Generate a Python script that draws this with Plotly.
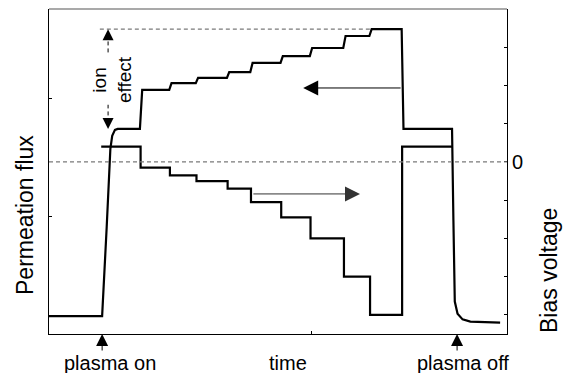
import plotly.graph_objects as go

# ---- data (arbitrary units, schematic) ----
# flux (left axis), bias voltage (right axis), time (x)
flux_base = 0.55
rise_t = [11.6, 12.6, 13.4, 13.8, 14.4, 15.0]
rise_v = [0.55, 3.3, 5.7, 6.1, 6.28, 6.31]
step_t = [20.0, 26.4, 32.2, 39.0, 44.1, 50.7, 57.1, 64.4, 70.1]
flux_levels = [6.31, 7.51, 7.72, 7.88, 8.06, 8.34, 8.55, 8.8, 9.17, 9.38]
bias_levels = [0.4, -0.15, -0.35, -0.5, -0.7, -1.05, -1.45, -2.0, -3.0, -4.0]
bias_start_t = 11.4
bias_off_t = 77.1
flux_drop_t = [77.0, 77.4]
plasma_off_t = 88.0
tail_t = [88.0, 88.3, 88.6, 89.2, 90.3, 92.0, 98.5]
tail_v = [6.31, 3.5, 1.0, 0.62, 0.45, 0.38, 0.35]
bias_on_level = 0.4
plasma_on_mark = 11.6
plasma_off_mark = 89.1
ion_t = 12.9

FONT = "Liberation Sans, Arial, sans-serif"

# flux curve
fx = [0.0] + rise_t
fy = [flux_base] + rise_v
for i, t in enumerate(step_t):
    fx += [t - 0.15, t + 0.35]
    fy += [flux_levels[i], flux_levels[i + 1]]
fx += flux_drop_t
fy += [flux_levels[-1], flux_levels[0]]
fx += tail_t
fy += tail_v

# bias curve
bx = [bias_start_t] + step_t + [bias_off_t, plasma_off_t]
by = bias_levels + [bias_on_level, bias_on_level]

fig = go.Figure()
fig.add_trace(go.Scatter(x=fx, y=fy, mode="lines", line=dict(color="black", width=2.2),
                         hoverinfo="skip", showlegend=False))
fig.add_trace(go.Scatter(x=bx, y=by, mode="lines", line=dict(color="black", width=2.2, shape="hv"),
                         yaxis="y2", hoverinfo="skip", showlegend=False))

gray = "#7a7a7a"
shapes = [
    dict(type="line", xref="x", yref="y2", x0=0, x1=100, y0=0, y1=0,
         line=dict(color=gray, width=1.3, dash="4px,3px")),
    dict(type="line", xref="x", yref="y", x0=11.1, x1=step_t[-1], y0=flux_levels[-1], y1=flux_levels[-1],
         line=dict(color=gray, width=1.3, dash="4px,3px")),
    dict(type="line", xref="x", yref="y", x0=ion_t, x1=ion_t, y0=flux_levels[0] + 0.2, y1=flux_levels[-1] - 0.2,
         line=dict(color="black", width=1, dash="4px,3px")),
    dict(type="line", xref="paper", yref="paper", x0=0, x1=1, y0=1, y1=1,
         line=dict(color="#555", width=1.2)),
]

C = dict(xanchor="center", yanchor="middle")
ann = []
# ion effect arrow heads
ann.append(dict(x=ion_t, y=flux_levels[-1], xref="x", yref="y", ax=0, ay=10, showarrow=True,
                arrowhead=2, arrowsize=2.2, arrowwidth=1, arrowcolor="black", text=""))
ann.append(dict(x=ion_t, y=flux_levels[0], xref="x", yref="y", ax=0, ay=-10, showarrow=True,
                arrowhead=2, arrowsize=2.2, arrowwidth=1, arrowcolor="black", text=""))
ann.append(dict(x=13.8, y=7.82, xref="x", yref="y", text="ion<br>effect", textangle=-90,
                showarrow=False, bgcolor="white", font=dict(family=FONT, size=19, color="black"), **C))
# direction arrows
ann.append(dict(x=55.5, y=7.57, ax=bias_off_t, ay=7.57, xref="x", yref="y", axref="x", ayref="y",
                text="", showarrow=True, arrowhead=2, arrowsize=3, arrowwidth=1, arrowcolor="black"))
ann.append(dict(x=67.9, y=4.31, ax=44.3, ay=4.31, xref="x", yref="y", axref="x", ayref="y",
                text="", showarrow=True, arrowhead=2, arrowsize=3, arrowwidth=1, arrowcolor="#333"))
# plasma on/off arrows
for tm in (plasma_on_mark, plasma_off_mark):
    ann.append(dict(x=tm, y=0, xref="x", yref="paper", ax=0, ay=18, text="", showarrow=True,
                    arrowhead=2, arrowsize=2.4, arrowwidth=1, arrowcolor="black"))
# bottom labels
for xp, txt in ((110, "plasma on"), (288, "time"), (463, "plasma off")):
    ann.append(dict(x=(xp - 49) / 458, y=0.0, xref="paper", yref="paper", yshift=-29, text=txt,
                    showarrow=False, font=dict(family=FONT, size=20, color="black"), **C))
# axis titles
ann.append(dict(x=(25 - 49) / 458, y=(334 - 215) / 325, xref="paper", yref="paper", text="Permeation flux",
                textangle=-90, showarrow=False, font=dict(family=FONT, size=23, color="black"), **C))
ann.append(dict(x=(549 - 49) / 458, y=(334 - 271) / 325, xref="paper", yref="paper", text="Bias voltage",
                textangle=-90, showarrow=False, font=dict(family=FONT, size=23, color="black"), **C))

y2_ticks = [-4, -3, -2, -1, 0, 1, 2, 3, 4]
y2_text = ["", "", "", "", "0", "", "", "", ""]

fig.update_layout(
    width=572, height=373,
    margin=dict(l=41, r=73, t=1, b=47),
    paper_bgcolor="white", plot_bgcolor="white",
    showlegend=False,
    shapes=shapes, annotations=ann,
    xaxis=dict(range=[0, 100], showline=True, linecolor="black", linewidth=1.2, showgrid=False,
               zeroline=False, ticks="inside", tickvals=[57.4], ticklen=3, tickcolor="black",
               showticklabels=False),
    yaxis=dict(range=[0, 10], showline=True, linecolor="black", linewidth=1.2, showgrid=False,
               zeroline=False, ticks="inside", tickvals=[3.63, 7.26], ticklen=3, tickcolor="black",
               showticklabels=False),
    yaxis2=dict(range=[-4.5, 4.0], overlaying="y", side="right", showline=True, linecolor="black",
                linewidth=1.2, showgrid=False, zeroline=False, ticks="inside", tickvals=y2_ticks,
                ticktext=y2_text, ticklen=3, tickcolor="black",
                tickfont=dict(family=FONT, size=20, color="black")),
)

fig.write_html("out.html")
